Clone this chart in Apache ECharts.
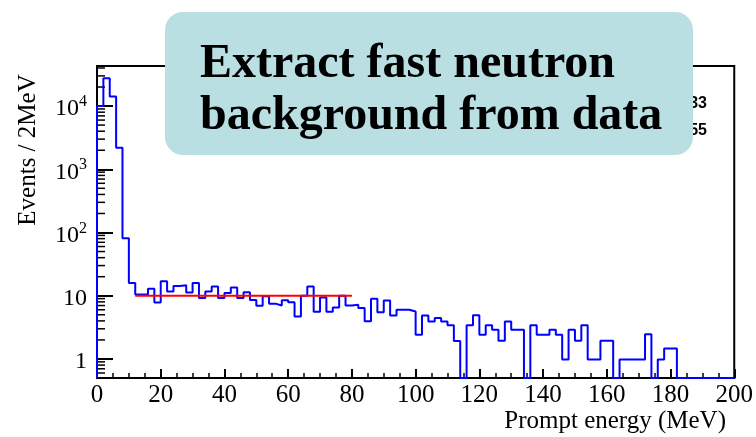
<!DOCTYPE html>
<html><head><meta charset="utf-8">
<script src="https://cdn.jsdelivr.net/npm/echarts@6/dist/echarts.min.js"></script>
<style>html,body{margin:0;padding:0;background:#fff}#c{width:756px;height:437px}</style>
</head><body><div id="c"></div>
<script>
// ---- data ----
const binStart = 0;
const binWidth = 2;
const counts = [
  10000, 27500, 14200, 2200, 81, 15.9, 10.5, 10.5, 12.9, 7.8,
  17.0, 11.7, 14.2, 14.6, 11.3, 15.9, 9.2, 11.7, 14.0, 9.2,
  11.0, 13.5, 9.2, 11.4, 8.6, 6.95, 9.8, 7.5, 7.0, 8.5,
  7.9, 4.7, 10.0, 14.0, 5.6, 9.4, 5.6, 6.5, 10.0, 7.0,
  7.2, 6.4, 3.95, 9.0, 5.5, 8.4, 4.85, 6.0, 6.0, 5.65,
  2.42, 4.85, 3.93, 4.43, 3.93, 3.4, 1.93, 0, 3.4, 4.9,
  2.42, 3.4, 2.9, 1.95, 3.93, 2.9, 2.9, 0, 3.4, 2.42,
  2.42, 2.9, 2.42, 0.98, 2.9, 1.95, 3.4, 0.98, 0.98, 1.95,
  1.95, 0, 0.98, 0.98, 0.98, 0.98, 2.45, 0, 0.98, 1.46,
  1.46, 0, 0, 0, 0, 0, 0, 0, 0, 0
];
const fitRange = [12, 80];
const fitValue = 10;
const xRange = [0, 200];
const xInterval = 20;
const yRange = [0.5, 43000];
const yMinorTicks = [0.6, 0.7, 0.8, 0.9, 2, 3, 4, 5, 6, 7, 8, 9,
  20, 30, 40, 50, 60, 70, 80, 90, 200, 300, 400, 500, 600, 700, 800, 900,
  2000, 3000, 4000, 5000, 6000, 7000, 8000, 9000, 20000, 30000, 40000];
const xTitle = 'Prompt energy (MeV)';
const yTitle = 'Events / 2MeV';
const boxLines = ['Extract fast neutron', 'background from data'];
const statFragments = ['33', '55'];

// ---- build ----
const SERIF = '"Liberation Serif", "Times New Roman", serif';
const stepData = [[binStart, yRange[0]]];
counts.forEach((c, i) => stepData.push([binStart + i * binWidth, c > 0 ? c : yRange[0]]));
const lastC = counts[counts.length - 1];
stepData.push([binStart + counts.length * binWidth, lastC > 0 ? lastC : yRange[0]]);

const chart = echarts.init(document.getElementById('c'), null, {renderer: 'canvas'});
chart.setOption({
  animation: false,
  backgroundColor: '#fff',
  grid: {left: 97, right: 21, top: 66, bottom: 59, show: true, borderColor: '#000', borderWidth: 2, backgroundColor: 'transparent'},
  xAxis: {
    type: 'value', min: xRange[0], max: xRange[1], interval: xInterval,
    axisLine: {lineStyle: {color: '#000', width: 2}},
    axisTick: {inside: true, length: 9, lineStyle: {color: '#000', width: 2}},
    minorTick: {show: true, splitNumber: 4, length: 5, lineStyle: {color: '#000', width: 1.5}},
    axisLabel: {fontFamily: SERIF, fontSize: 25, color: '#000', margin: 5},
    splitLine: {show: false}
  },
  yAxis: {
    type: 'log', logBase: 10, min: yRange[0], max: yRange[1],
    axisLine: {show: true, lineStyle: {color: '#000', width: 2}},
    axisTick: {inside: true, length: 16, lineStyle: {color: '#000', width: 2}},
    axisLabel: {
      showMinLabel: false, showMaxLabel: false, margin: 10,
      fontFamily: SERIF, fontSize: 24, color: '#000',
      formatter: function (v) {
        const e = Math.log10(v);
        const r = Math.round(e);
        if (Math.abs(e - r) > 1e-6) return '';
        if (r === 0) return '{b|1}';
        if (r === 1) return '{b|10}';
        return '{b|10}{s|' + r + '}';
      },
      rich: {
        b: {fontFamily: SERIF, fontSize: 24, color: '#000', lineHeight: 24, padding: [6, 0, 0, 0]},
        s: {fontFamily: SERIF, fontSize: 16, color: '#000', lineHeight: 16, verticalAlign: 'top'}
      }
    },
    splitLine: {show: false}
  },
  series: [
    {
      type: 'custom', silent: true, z: 3,
      encode: {x: 0, y: 1},
      data: yMinorTicks.map(v => [xRange[0], v]),
      renderItem: function (params, api) {
        const p = api.coord([api.value(0), api.value(1)]);
        return {type: 'line', shape: {x1: p[0], y1: p[1], x2: p[0] + 8, y2: p[1]}, style: {stroke: '#000', lineWidth: 1.5}};
      }
    },
    {
      type: 'line', data: stepData, step: 'end', symbol: 'none', clip: false, z: 4,
      lineStyle: {color: '#0000ff', width: 2}
    },
    {
      type: 'line', data: [[fitRange[0], fitValue], [fitRange[1], fitValue]], symbol: 'none', z: 5,
      lineStyle: {color: '#ff0000', width: 2}
    }
  ],
  graphic: [
    {type: 'text', x: 28, y: 150, rotation: Math.PI / 2, style: {text: yTitle, font: '25px ' + SERIF, fill: '#000', align: 'center', verticalAlign: 'middle'}},
    {type: 'text', x: 726, y: 421, style: {text: xTitle, font: '25px ' + SERIF, fill: '#000', align: 'right', verticalAlign: 'middle'}},
    {type: 'text', x: 707, y: 104, z: 90, style: {text: statFragments[0], font: 'bold 16px "Liberation Sans", Arial, sans-serif', fill: '#000', align: 'right', verticalAlign: 'middle'}},
    {type: 'text', x: 707, y: 131, z: 90, style: {text: statFragments[1], font: 'bold 16px "Liberation Sans", Arial, sans-serif', fill: '#000', align: 'right', verticalAlign: 'middle'}},
    {type: 'rect', z: 100, shape: {x: 165, y: 12, width: 528, height: 143, r: 18}, style: {fill: '#b9dfe2'}},
    {type: 'text', z: 101, x: 200, y: 65, style: {text: boxLines[0], font: 'bold 48px ' + SERIF, fill: '#000', align: 'left', verticalAlign: 'middle'}},
    {type: 'text', z: 101, x: 200, y: 117, style: {text: boxLines[1], font: 'bold 48px ' + SERIF, fill: '#000', align: 'left', verticalAlign: 'middle'}}
  ]
});
</script>
</body></html>
